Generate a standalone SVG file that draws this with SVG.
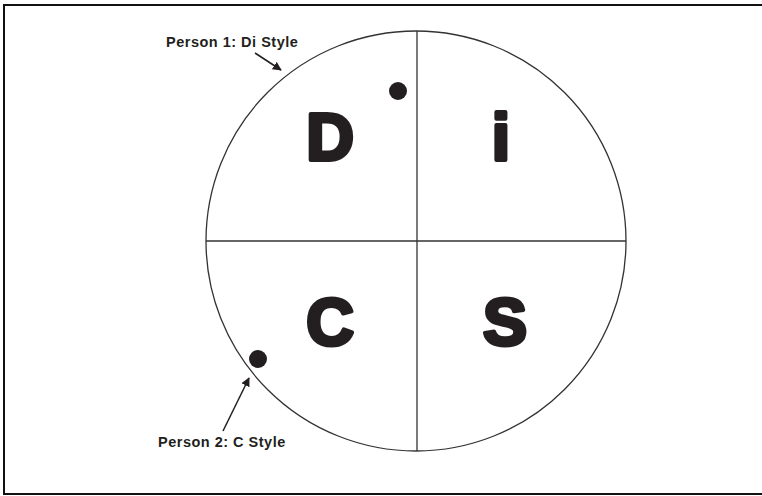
<svg xmlns="http://www.w3.org/2000/svg" width="762" height="496" viewBox="0 0 762 496">
  <defs>
    <style>
      .frame { fill: none; stroke: #111; stroke-width: 2; }
      .line { fill: none; stroke: #333; stroke-width: 1.3; }
      .letter { font-family: "Liberation Sans", Arial, sans-serif; font-weight: bold; font-size: 66px; fill: #231f20; stroke: #231f20; stroke-width: 4; stroke-linejoin: round; text-anchor: middle; }
      .label { font-family: "Liberation Sans", Arial, sans-serif; font-weight: bold; font-size: 14.5px; letter-spacing: 0.5px; fill: #231f20; }
      .dot { fill: #231f20; }
      .arrow { fill: none; stroke: #231f20; stroke-width: 1.5; }
    </style>
    <marker id="ah" viewBox="0 0 10 10" refX="9" refY="5" markerWidth="6" markerHeight="6" orient="auto" markerUnits="strokeWidth">
      <path d="M0,0 L10,5 L0,10 z" fill="#231f20"/>
    </marker>
  </defs>
  <rect width="762" height="496" fill="#fff"/>
  <path class="frame" d="M770,5 L4,5 L4,494 L770,494"/>

  <g id="wheel">
    <circle class="line" cx="416" cy="241" r="210"/>
    <line class="line" x1="206" y1="241" x2="626" y2="241" stroke-width="1.6"/>
    <line class="line" x1="417" y1="31" x2="417" y2="451" stroke-width="1.6"/>
  </g>

  <g id="quad-D"><text class="letter" x="330" y="160">D</text></g>
  <g id="quad-i"><text class="letter" x="501" y="160">i</text></g>
  <g id="quad-C"><text class="letter" x="330" y="345">C</text></g>
  <g id="quad-S"><text class="letter" x="505" y="345">S</text></g>

  <g id="person1">
    <circle class="dot" cx="398" cy="91" r="9"/>
    <text class="label" x="166" y="47">Person 1: Di Style</text>
  </g>
  <g id="person2">
    <circle class="dot" cx="258" cy="359" r="9"/>
    <text class="label" x="158" y="447">Person 2: C Style</text>
  </g>

  <g id="connectors">
    <line class="arrow" x1="255" y1="53" x2="281" y2="70" marker-end="url(#ah)"/>
    <line class="arrow" x1="223" y1="431" x2="249" y2="378" marker-end="url(#ah)"/>
  </g>
</svg>
